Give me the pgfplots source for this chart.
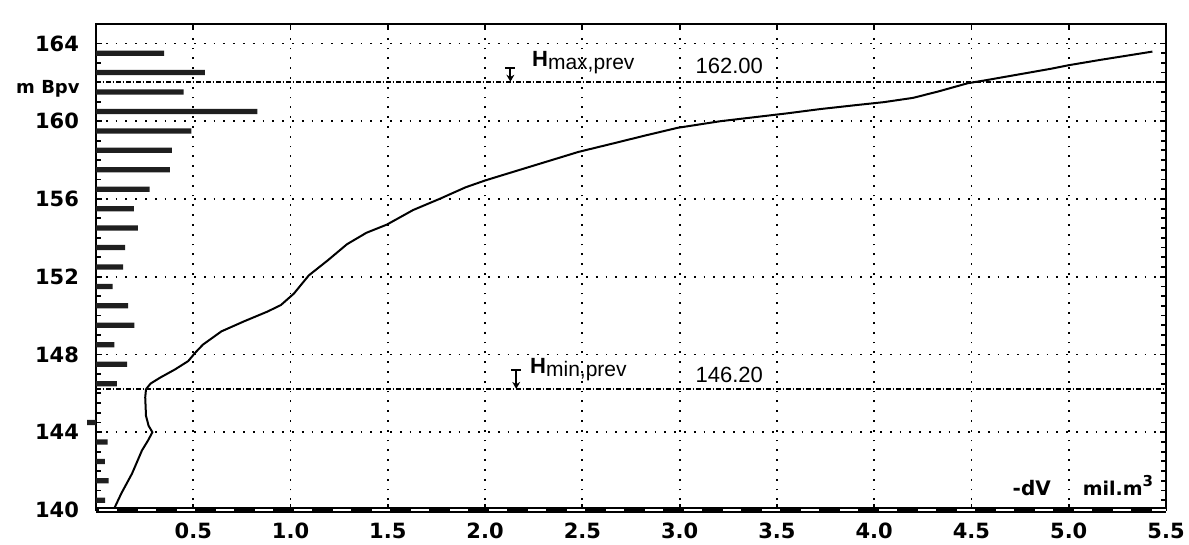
\documentclass[border=0pt]{standalone}
\usepackage{pgfplots}
\usepackage{pgfplotstable}
\pgfplotsset{compat=1.18}
\usepackage{fontspec}
\setmainfont{Liberation Sans}
\newfontfamily\dejavu{DejaVu Sans}
\usetikzlibrary{arrows.meta}

% volume released per metre of level (bars), mil. m^3
\pgfplotstableread{
vol    lev
0.35   163.5
0.56   162.5
0.45   161.5
0.83   160.5
0.49   159.5
0.39   158.5
0.38   157.5
0.275  156.5
0.195  155.5
0.215  154.5
0.15   153.5
0.14   152.5
0.085  151.5
0.165  150.5
0.197  149.5
0.095  148.5
0.16   147.5
0.107  146.5
-0.045 144.5
0.06   143.5
0.045  142.5
0.065  141.5
0.047  140.5
}\levelbars

% level versus cumulative volume -dV
\pgfplotstableread{
vol   lev
0.09  140.0
0.13  140.85
0.185 141.87
0.236 143.06
0.267 143.57
0.29  144.0
0.27  144.34
0.257 144.85
0.253 145.79
0.257 146.21
0.28  146.5
0.33  146.81
0.406 147.23
0.474 147.66
0.51  148.09
0.55  148.51
0.645 149.19
0.76  149.7
0.88  150.2
0.95  150.54
1.017 151.13
1.094 152.07
1.19  152.83
1.29  153.67
1.39  154.26
1.495 154.68
1.63  155.43
1.77  156.02
1.90  156.6
2.00  156.95
2.14  157.38
2.31  157.9
2.48  158.42
2.66  158.86
2.83  159.28
2.99  159.66
3.21  160.0
3.38  160.2
3.55  160.4
3.72  160.62
3.90  160.82
4.05  160.98
4.20  161.2
4.33  161.53
4.48  161.95
4.57  162.1
4.74  162.4
4.91  162.7
5.00  162.88
5.16  163.15
5.33  163.42
5.43  163.58
}\curve

\begin{document}
\begin{tikzpicture}
\begin{axis}[
  name=ax,
  scale only axis,
  width=535pt, height=243pt,
  xmin=0, xmax=5.5, ymin=140, ymax=165,
  xtick={0.5,1,1.5,2,2.5,3,3.5,4,4.5,5,5.5},
  xticklabels={0.5,1.0,1.5,2.0,2.5,3.0,3.5,4.0,4.5,5.0,5.5},
  ytick={140,144,148,152,156,160,164},
  yticklabels={140,144,148,152,156,160,164},
  minor y tick num=7,
  tick align=inside,
  major tick length=3pt, minor tick length=2.5pt,
  every tick/.style={black, line width=0.9pt},
  minor tick style={black, line width=0.9pt},
  xmajorgrids, ymajorgrids,
  major grid style={black, line width=0.9pt, dash pattern=on 0.9pt off 4pt},
  axis line style={line width=1.2pt},
  xticklabel style={font=\dejavu\bfseries\fontsize{10.5}{12}\selectfont, yshift=-3pt},
  yticklabel style={font=\dejavu\bfseries\fontsize{10.5}{12}\selectfont, xshift=-5pt},
  clip=false,
]
% level bars
\addplot[xbar, bar width=0.27, fill=black!88, draw=none] table[x=vol, y=lev] {\levelbars};

% design levels
\addplot[black, line width=1pt, dash pattern=on 2.4pt off 0.9pt on 0.8pt off 0.9pt]
  coordinates {(0,162) (5.5,162)};
\addplot[black, line width=1pt, dash pattern=on 2.4pt off 0.9pt on 0.8pt off 0.9pt]
  coordinates {(0,146.2) (5.5,146.2)};

% storage curve
\addplot[black, line width=1pt, line join=round] table[x=vol, y=lev] {\curve};

% level markers and labels
\draw[{Bar[width=5pt]}-{Stealth[length=3.5pt,width=4pt]}, line width=0.9pt]
  (axis cs:2.13,162.8) -- (axis cs:2.13,162.03);
\draw[{Bar[width=5pt]}-{Stealth[length=3.5pt,width=4pt]}, line width=0.9pt]
  (axis cs:2.16,147.25) -- (axis cs:2.16,146.23);

\node[anchor=base west, inner sep=0] at (axis cs:2.24,162.8)
  {\fontsize{11}{12}\selectfont\bfseries H\raisebox{-1.5pt}{\fontsize{10.5}{12}\selectfont\mdseries max,prev}};
\node[anchor=base west, inner sep=0] at (axis cs:3.08,162.45)
  {\fontsize{11}{12}\selectfont 162.00};
\node[anchor=base west, inner sep=0] at (axis cs:2.23,147.02)
  {\fontsize{11}{12}\selectfont\bfseries H\raisebox{-1.5pt}{\fontsize{10.5}{12}\selectfont\mdseries min,prev}};
\node[anchor=base west, inner sep=0] at (axis cs:3.08,146.56)
  {\fontsize{11}{12}\selectfont 146.20};

% axis titles
\node[anchor=base east, inner sep=0, xshift=-8pt] at (axis cs:0,161.43)
  {\dejavu\bfseries\fontsize{9}{10}\selectfont m Bpv};
\node[anchor=base west, inner sep=0] at (axis cs:4.71,140.77)
  {\dejavu\bfseries\fontsize{10}{10}\selectfont -dV};
\node[anchor=base west, inner sep=0] at (axis cs:5.07,140.77)
  {\dejavu\bfseries\fontsize{9.5}{10}\selectfont mil.m\raisebox{4.5pt}{\fontsize{7.5}{8}\selectfont 3}};
\end{axis}

% heavy bottom rule with light dashes
\draw[line width=2.8pt] (ax.south west) -- (ax.south east);
\draw[white, line width=0.8pt, dash pattern=on 9pt off 10.5pt, dash phase=-1.5pt]
  (ax.south west) -- (ax.south east);

\pgfresetboundingbox
\path[use as bounding box] ([xshift=-48pt,yshift=-17pt]ax.south west)
  rectangle ([xshift=11.5pt,yshift=12pt]ax.north east);
\end{tikzpicture}
\end{document}
